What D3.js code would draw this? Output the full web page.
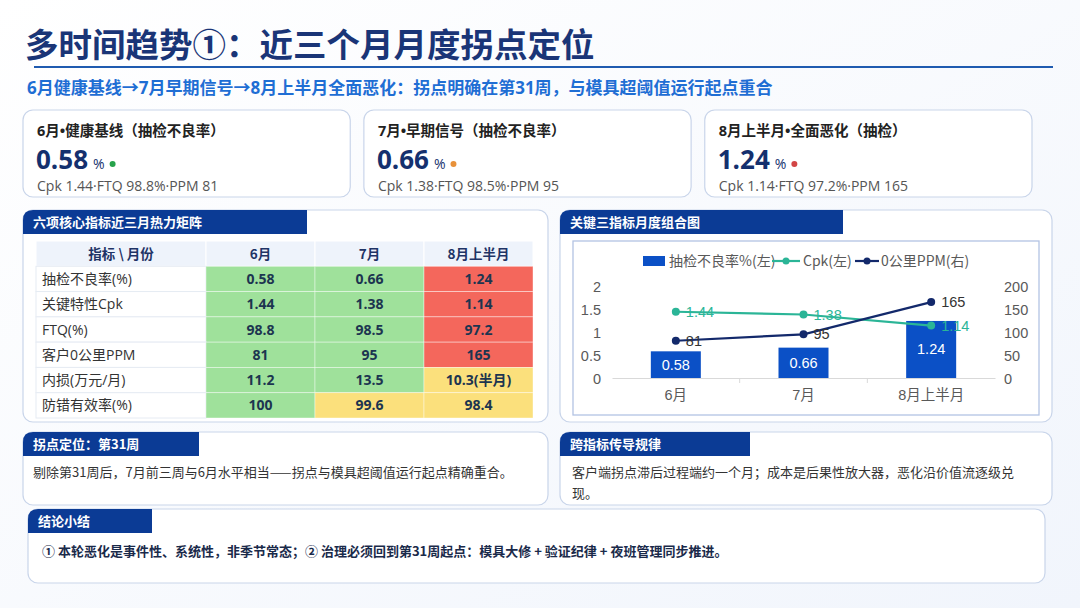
<!DOCTYPE html>
<html><head><meta charset="utf-8">
<script src="https://cdn.jsdelivr.net/npm/d3@7/dist/d3.min.js"></script>
<style>
html,body{margin:0;padding:0;background:#f6f9fd;}
svg{display:block;font-family:"Noto Sans CJK SC","Noto Sans",sans-serif;}
</style></head><body>
<svg id="c" width="1080" height="608"></svg>
<script>
// ---------- data ----------
const titleText = "多时间趋势①：近三个月月度拐点定位";
const subtitleText = "6月健康基线→7月早期信号→8月上半月全面恶化：拐点明确在第31周，与模具超阈值运行起点重合";
const kpiLabels = ["6月•健康基线（抽检不良率）","7月•早期信号（抽检不良率）","8月上半月•全面恶化（抽检）"];
const kpiValues = ["0.58","0.66","1.24"];
const kpiStatus = ["good","warn","bad"];
const kpiSubs = ["Cpk 1.44·FTQ 98.8%·PPM 81","Cpk 1.38·FTQ 98.5%·PPM 95","Cpk 1.14·FTQ 97.2%·PPM 165"];

const months = ["6月","7月","8月上半月"];
const metrics = ["抽检不良率(%)","关键特性Cpk","FTQ(%)","客户0公里PPM","内损(万元/月)","防错有效率(%)"];
const heatValues = [
  ["0.58","0.66","1.24"],
  ["1.44","1.38","1.14"],
  ["98.8","98.5","97.2"],
  ["81","95","165"],
  ["11.2","13.5","10.3(半月)"],
  ["100","99.6","98.4"]
];
const heatLevels = [
  ["good","good","bad"],
  ["good","good","bad"],
  ["good","good","bad"],
  ["good","good","bad"],
  ["good","good","warn"],
  ["good","warn","warn"]
];

const defectRate = [0.58,0.66,1.24];
const cpk = [1.44,1.38,1.14];
const ppm = [81,95,165];
const leftTicks = [0,0.5,1,1.5,2];
const rightTicks = [0,50,100,150,200];
const legendLabels = ["抽检不良率%(左)","Cpk(左)","0公里PPM(右)"];

const note1Title = "拐点定位：第31周";
const note1Text = ["剔除第31周后，7月前三周与6月水平相当——拐点与模具超阈值运行起点精确重合。"];
const note2Title = "跨指标传导规律";
const note2Text = ["客户端拐点滞后过程端约一个月；成本是后果性放大器，恶化沿价值流逐级兑","现。"];
const concTitle = "结论小结";
const concText = "① 本轮恶化是事件性、系统性，非季节常态；② 治理必须回到第31周起点：模具大修 + 验证纪律 + 夜班管理同步推进。";

// ---------- styles ----------
const navy = "#14306e", tabBlue = "#0b3b95", border = "#c9d5ea";
const latin = "'Open Sans','Noto Sans CJK SC',sans-serif";
const statusDot = {good:"#27a24b", warn:"#e8913a", bad:"#d24545"};
const heatColor = {good:"#9fe19b", warn:"#fbe07c", bad:"#f4675c"};

const svg = d3.select("#c");

// background gradient
const defs = svg.append("defs");
const bg = defs.append("linearGradient").attr("id","bg").attr("x1",0).attr("y1",0).attr("x2",1).attr("y2",1);
bg.append("stop").attr("offset","0%").attr("stop-color","#ffffff");
bg.append("stop").attr("offset","100%").attr("stop-color","#f1f5fc");
svg.append("rect").attr("width",1080).attr("height",608).attr("fill","url(#bg)");

// title
svg.append("text").attr("x",25).attr("y",57).attr("font-size",33.5).attr("font-weight",700)
  .attr("fill","#1a3577").text(titleText);
svg.append("line").attr("x1",34).attr("x2",1053).attr("y1",67).attr("y2",67)
  .attr("stroke","#1f5bb0").attr("stroke-width",2.2);
svg.append("text").attr("x",27).attr("y",94).attr("font-size",17).attr("font-weight",700)
  .attr("fill","#1f6ed4").attr("font-family",latin).text(subtitleText);

// KPI cards
const cardX = d3.scaleBand().domain(d3.range(3)).range([23,1032]).paddingInner(0.04).paddingOuter(0);
const cards = svg.selectAll("g.card").data(kpiLabels).join("g").attr("class","card")
  .attr("transform",(d,i)=>`translate(${cardX(i)},110)`);
cards.append("rect").attr("width",cardX.bandwidth()).attr("height",87).attr("rx",10)
  .attr("fill","#fff").attr("stroke",border).attr("stroke-width",1.2);
cards.append("text").attr("x",14).attr("y",26).attr("font-size",14.5).attr("font-weight",700)
  .attr("fill","#222").attr("font-family",latin).text(d=>d);
const valT = cards.append("text").attr("class","val").attr("x",13).attr("y",59).attr("fill",navy).attr("font-family",latin);
valT.append("tspan").attr("font-size",26).attr("font-weight",700).text((d,i)=>kpiValues[i]);
valT.append("tspan").attr("font-size",14).attr("dx",5).attr("font-weight",400).text("%");
cards.each(function(d,i){
  const g=d3.select(this);
  const w = g.select("text.val").node().getComputedTextLength();
  g.append("circle").attr("cx",13+w+13).attr("cy",54).attr("r",3).attr("fill",statusDot[kpiStatus[i]]);
});
cards.append("text").attr("x",14).attr("y",81).attr("font-size",14).attr("fill","#555")
  .attr("font-family",latin).text((d,i)=>kpiSubs[i]);

// Panel helper
function panel(x,y,w,h,title,tabW){
  const g = svg.append("g").attr("transform",`translate(${x},${y})`);
  g.append("rect").attr("width",w).attr("height",h).attr("rx",10).attr("fill","#fff")
    .attr("stroke",border).attr("stroke-width",1.2);
  g.append("path").attr("d",`M0,10 Q0,0 10,0 H${tabW} V24 H0 Z`).attr("fill",tabBlue);
  g.append("text").attr("x",10).attr("y",17).attr("font-size",13).attr("font-weight",700)
    .attr("fill","#fff").text(title);
  return g;
}

// Heatmap panel
const hp = panel(23,210,525,212,"六项核心指标近三月热力矩阵",284);
const cols = ["指标 \\ 月份"].concat(months);
const colX = d3.scaleOrdinal().domain(d3.range(4)).range([13,183,292,401]);
const colW = [170,109,109,109];
const rowY = d3.scaleBand().domain(d3.range(7)).range([31,208]);
const rh = rowY.bandwidth();
cols.forEach((c,j)=>{
  hp.append("rect").attr("x",colX(j)).attr("y",rowY(0)).attr("width",colW[j]).attr("height",rh)
    .attr("fill","#eef3fb").attr("stroke","#fff").attr("stroke-width",1);
  hp.append("text").attr("x",colX(j)+colW[j]/2).attr("y",rowY(0)+rh/2+5).attr("text-anchor","middle")
    .attr("font-size",13.5).attr("font-weight",700).attr("fill","#1f3466").text(c);
});
metrics.forEach((m,i)=>{
  const y=rowY(i+1);
  hp.append("rect").attr("x",colX(0)).attr("y",y).attr("width",colW[0]).attr("height",rh)
    .attr("fill","#fff").attr("stroke","#e6ebf3").attr("stroke-width",1);
  hp.append("text").attr("x",colX(0)+6).attr("y",y+rh/2+5).attr("font-size",14)
    .attr("fill","#333").attr("font-family",latin).text(m);
  heatValues[i].forEach((v,j)=>{
    hp.append("rect").attr("x",colX(j+1)).attr("y",y).attr("width",colW[j+1]).attr("height",rh)
      .attr("fill",heatColor[heatLevels[i][j]]).attr("stroke","rgba(255,255,255,0.5)").attr("stroke-width",0.8);
    hp.append("text").attr("x",colX(j+1)+colW[j+1]/2).attr("y",y+rh/2+5).attr("text-anchor","middle")
      .attr("font-size",14).attr("font-weight",700).attr("fill","#1c3550").attr("font-family",latin).text(v);
  });
});

// Combo chart panel
const cp = panel(560,210,492,212,"关键三指标月度组合图",283);
cp.append("rect").attr("x",13).attr("y",31).attr("width",466).attr("height",174)
  .attr("fill","#fff").attr("stroke","#b3c3e3").attr("stroke-width",1.3);
const g = svg.append("g");
const x = d3.scaleBand().domain(months).range([612,995]);
const yL = d3.scaleLinear().domain([0,2]).range([378,286]);
const yR = d3.scaleLinear().domain([0,200]).range([378,286]);
const axFont = "Liberation Sans, Arial, sans-serif";
const xAxis = g.append("g").attr("transform","translate(0,378)").call(d3.axisBottom(x).tickSize(0).tickPadding(12));
xAxis.select(".domain").attr("stroke","#d9d9d9");
xAxis.selectAll("text").attr("font-size",14.5).attr("fill","#595959").attr("font-family","Liberation Sans, Noto Sans CJK SC");
g.selectAll("line.sep").data(months.slice(1)).join("line").attr("class","sep")
  .attr("x1",d=>x(d)).attr("x2",d=>x(d)).attr("y1",378).attr("y2",383).attr("stroke","#d9d9d9");
const la = g.append("g").attr("transform","translate(604,0)").call(d3.axisLeft(yL).tickValues(leftTicks).tickSize(0).tickFormat(d3.format("")));
la.select(".domain").remove();
la.selectAll("text").attr("font-size",14.5).attr("fill","#595959").attr("font-family",axFont).attr("dy","0.35em");
const ra = g.append("g").attr("transform","translate(1001,0)").call(d3.axisRight(yR).tickValues(rightTicks).tickSize(0));
ra.select(".domain").remove();
ra.selectAll("text").attr("font-size",14.5).attr("fill","#595959").attr("font-family",axFont).attr("dy","0.35em");

const bw = 50;
g.selectAll("rect.bar").data(defectRate).join("rect").attr("class","bar")
  .attr("x",(d,i)=>x(months[i])+x.bandwidth()/2-bw/2).attr("width",bw)
  .attr("y",d=>yL(d)).attr("height",d=>yL(0)-yL(d)).attr("fill","#0b50c6");
g.selectAll("text.barl").data(defectRate).join("text").attr("class","barl")
  .attr("x",(d,i)=>x(months[i])+x.bandwidth()/2).attr("y",d=>(yL(d)+yL(0))/2+5)
  .attr("text-anchor","middle").attr("font-size",14.5).attr("fill","#fff")
  .attr("font-family",axFont).text(d=>d.toFixed(2));

const cx = (d,i)=>x(months[i])+x.bandwidth()/2;
g.append("path").datum(cpk).attr("fill","none").attr("stroke","#2bb597").attr("stroke-width",2.2)
  .attr("d",d3.line().x(cx).y(d=>yL(d)));
g.selectAll("circle.cpk").data(cpk).join("circle").attr("class","cpk")
  .attr("cx",cx).attr("cy",d=>yL(d)).attr("r",4).attr("fill","#2bb597");
g.selectAll("text.cpkl").data(cpk).join("text").attr("class","cpkl")
  .attr("x",(d,i)=>cx(d,i)+10).attr("y",d=>yL(d)+5).attr("font-size",14.5).attr("fill","#2bb597")
  .attr("font-family",axFont).text(d=>d.toFixed(2));
g.append("path").datum(ppm).attr("fill","none").attr("stroke","#13296b").attr("stroke-width",2.2)
  .attr("d",d3.line().x(cx).y(d=>yR(d)));
g.selectAll("circle.ppm").data(ppm).join("circle").attr("class","ppm")
  .attr("cx",cx).attr("cy",d=>yR(d)).attr("r",4).attr("fill","#13296b");
g.selectAll("text.ppml").data(ppm).join("text").attr("class","ppml")
  .attr("x",(d,i)=>cx(d,i)+10).attr("y",d=>yR(d)+5).attr("font-size",14.5).attr("fill","#333")
  .attr("font-family",axFont).text(d=>d);

const lg = g.append("g").attr("transform","translate(643,261)");
lg.append("rect").attr("x",0).attr("y",-5).attr("width",22).attr("height",10).attr("fill","#0b50c6");
lg.append("text").attr("x",26).attr("y",5).attr("font-size",14).attr("fill","#595959").text(legendLabels[0]);
lg.append("line").attr("x1",129).attr("x2",157).attr("y1",0).attr("y2",0).attr("stroke","#2bb597").attr("stroke-width",2.2);
lg.append("circle").attr("cx",143).attr("cy",0).attr("r",3.5).attr("fill","#2bb597");
lg.append("text").attr("x",160).attr("y",5).attr("font-size",14).attr("fill","#595959").text(legendLabels[1]);
lg.append("line").attr("x1",212).attr("x2",236).attr("y1",0).attr("y2",0).attr("stroke","#13296b").attr("stroke-width",2.2);
lg.append("circle").attr("cx",224).attr("cy",0).attr("r",3.5).attr("fill","#13296b");
lg.append("text").attr("x",238).attr("y",5).attr("font-size",14).attr("fill","#595959").text(legendLabels[2]);

const n1 = panel(23,432,525,73,note1Title,176);
n1.selectAll("text.b").data(note1Text).join("text").attr("class","b").attr("x",10).attr("y",(d,i)=>45+i*21)
  .attr("font-size",13).attr("fill","#333").text(d=>d);
const n2 = panel(560,432,492,73,note2Title,190);
n2.selectAll("text.b").data(note2Text).join("text").attr("class","b").attr("x",12).attr("y",(d,i)=>45+i*21)
  .attr("font-size",13).attr("fill","#333").text(d=>d);
const n3 = panel(28,509,1017,74,concTitle,124);
n3.append("text").attr("x",14).attr("y",47).attr("font-size",13).attr("font-weight",700)
  .attr("fill","#1a2a4a").text(concText);
</script>
</body></html>
